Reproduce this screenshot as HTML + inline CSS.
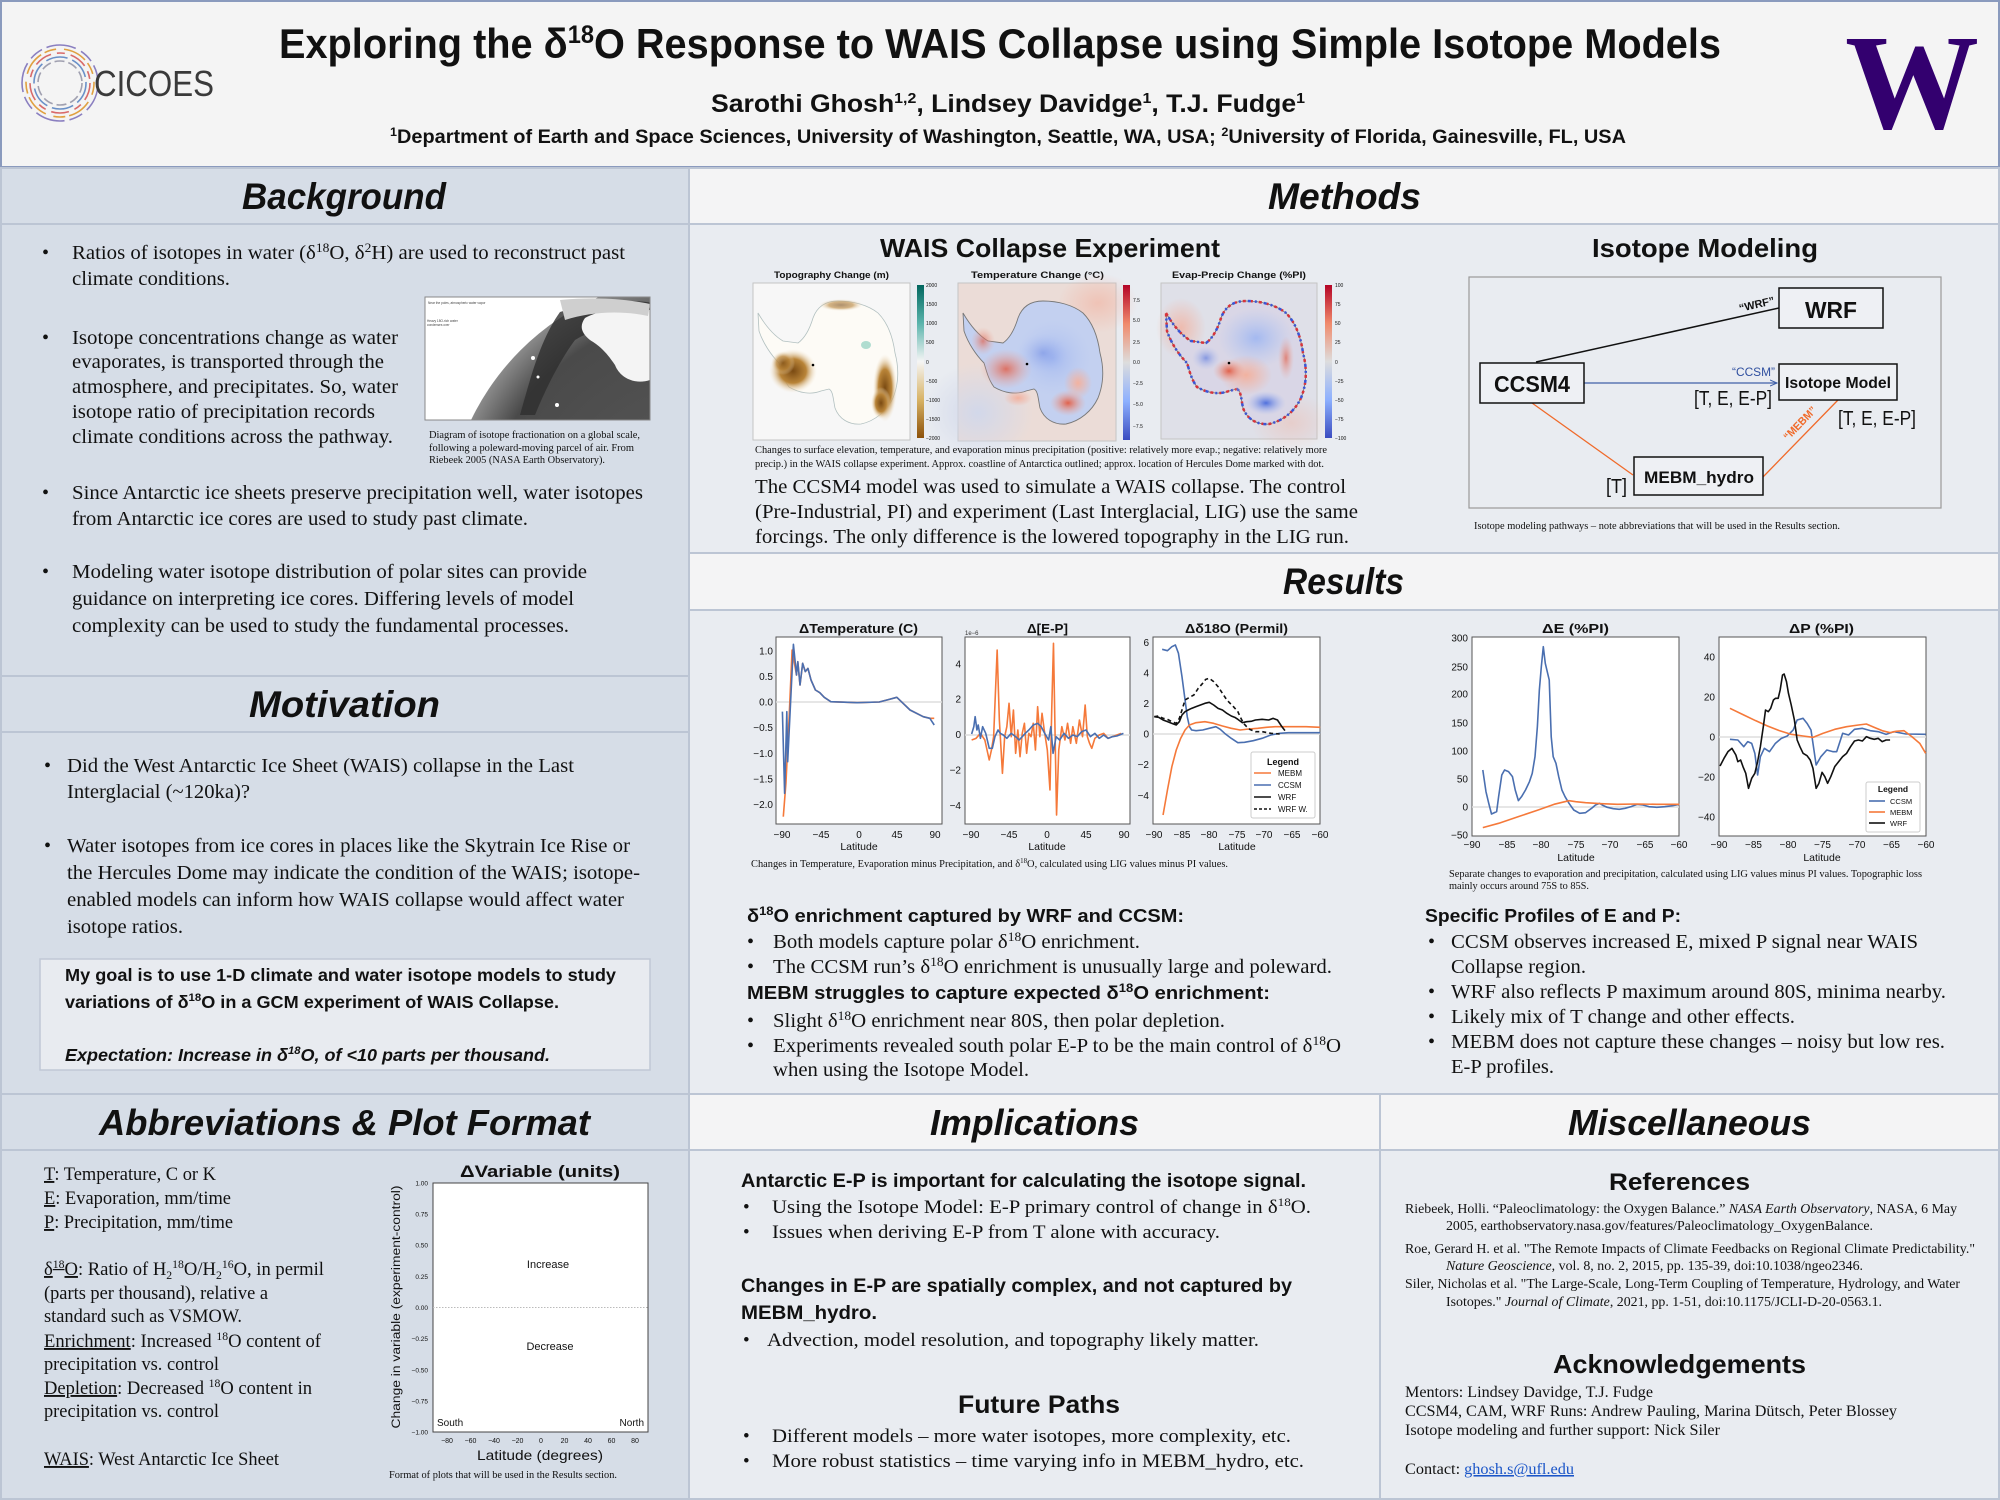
<!DOCTYPE html>
<html><head><meta charset="utf-8">
<style>
html,body{margin:0;padding:0;background:#e9ecf1;}
svg{display:block;}
.sa{font-family:"Liberation Sans",sans-serif;}
.se{font-family:"Liberation Serif",serif;}
.b{font-weight:bold;}
.i{font-style:italic;}
text{fill:#111;}
.tk{font-family:"Liberation Sans",sans-serif;font-size:10px;fill:#222;}
.u{text-decoration:underline;}
</style></head>
<body>
<svg width="2000" height="1500" viewBox="0 0 2000 1500" xmlns="http://www.w3.org/2000/svg">
<defs>
<linearGradient id="cbTopo" x1="0" y1="0" x2="0" y2="1"><stop offset="0" stop-color="#01665e"/><stop offset="0.25" stop-color="#5ab4ac"/><stop offset="0.5" stop-color="#f5f5f5"/><stop offset="0.75" stop-color="#d8b365"/><stop offset="1" stop-color="#8c510a"/></linearGradient>
<linearGradient id="cbCW" x1="0" y1="0" x2="0" y2="1"><stop offset="0" stop-color="#b40426"/><stop offset="0.25" stop-color="#f08a6c"/><stop offset="0.5" stop-color="#dddddd"/><stop offset="0.75" stop-color="#8db0fe"/><stop offset="1" stop-color="#3b4cc0"/></linearGradient>
<radialGradient id="globe" cx="0.5" cy="0.5" r="0.5"><stop offset="0" stop-color="#5a5a5a"/><stop offset="0.85" stop-color="#4a4a4a"/><stop offset="1" stop-color="#8a8a8a"/></radialGradient>
<radialGradient id="brown" cx="0.5" cy="0.5" r="0.5"><stop offset="0" stop-color="#7a4a12"/><stop offset="0.55" stop-color="#b98438"/><stop offset="1" stop-color="#f3e6cf" stop-opacity="0"/></radialGradient>
<radialGradient id="redb" cx="0.5" cy="0.5" r="0.5"><stop offset="0" stop-color="#e0614c"/><stop offset="1" stop-color="#f0a898" stop-opacity="0"/></radialGradient>
<radialGradient id="redl" cx="0.5" cy="0.5" r="0.5"><stop offset="0" stop-color="#f2b2a0"/><stop offset="1" stop-color="#f2b2a0" stop-opacity="0"/></radialGradient>
<radialGradient id="blueb" cx="0.5" cy="0.5" r="0.5"><stop offset="0" stop-color="#4f6fdc"/><stop offset="1" stop-color="#a9bcf2" stop-opacity="0"/></radialGradient>
<radialGradient id="bluel" cx="0.5" cy="0.5" r="0.5"><stop offset="0" stop-color="#a4b9f0"/><stop offset="1" stop-color="#b8c8f0" stop-opacity="0"/></radialGradient>
<radialGradient id="fadeBlue" cx="0.5" cy="0.5" r="0.5"><stop offset="0" stop-color="#d2d8ea"/><stop offset="1" stop-color="#d2d8ea" stop-opacity="0"/></radialGradient>
<clipPath id="imgclip"><rect x="425" y="297" width="225" height="123"/></clipPath>
<path id="ant2" d="M5,30 C12,42 20,52 30,58 L45,60 C52,55 57,45 60,35 C64,24 72,18 85,18 C100,18 115,22 125,30 C135,40 140,55 142,70 C146,85 146,100 140,115 C134,128 122,138 108,141 C96,142 86,136 82,125 C80,115 80,108 76,106 L68,108 C58,112 46,110 36,104 C30,96 28,86 26,80 C18,72 10,60 6,48 Z"/>
<marker id="arr" markerWidth="8" markerHeight="8" refX="7" refY="4" orient="auto" markerUnits="userSpaceOnUse"><path d="M0,1 L7,4 L0,7" fill="none" stroke="#4060a8" stroke-width="1"/></marker>
</defs>

<!-- backgrounds -->
<rect x="0" y="0" width="2000" height="1500" fill="#e9ecf1"/>
<rect x="0" y="168" width="689" height="1332" fill="#d6dde7"/>
<rect x="689" y="168" width="1311" height="56" fill="#f4f4f5"/>
<rect x="689" y="553" width="1311" height="57" fill="#f4f4f5"/>
<rect x="689" y="1094" width="1311" height="56" fill="#f4f4f5"/>
<rect x="1" y="1" width="1998" height="166" fill="#f4f4f4" stroke="#8a9abd" stroke-width="2"/>
<path d="M0 224H2000 M0 676H689 M0 732H689 M0 1094H2000 M0 1150H2000 M689 553H2000 M689 610H2000 M689 168V1500 M1380 1094V1500" stroke="#bcc5d4" stroke-width="2" fill="none"/>
<rect x="1" y="168" width="1998" height="1331" fill="none" stroke="#bcc5d4" stroke-width="2"/>

<!-- HEADER -->
<g fill="none" stroke-width="1.6">
<circle cx="60" cy="83" r="38" stroke="#8a7fc0" stroke-dasharray="30 6 14 5"/>
<circle cx="60" cy="83" r="34" stroke="#e0a040" stroke-dasharray="12 8 24 4"/>
<circle cx="60" cy="83" r="30" stroke="#d86a6a" stroke-dasharray="18 6 8 6"/>
<circle cx="60" cy="83" r="26" stroke="#6a90c8" stroke-dasharray="22 5"/>
<circle cx="60" cy="83" r="22" stroke="#a0a0b0" stroke-dasharray="10 4"/>
</g>
<text class="sa" x="94" y="96" font-size="36" textLength="120" lengthAdjust="spacingAndGlyphs" style="fill:#3a3a3a">CICOES</text>
<text class="sa b" x="279" y="58" font-size="42" textLength="1442" lengthAdjust="spacingAndGlyphs">Exploring the δ<tspan dy="-15" font-size="25">18</tspan><tspan dy="15">O Response to WAIS Collapse using Simple Isotope Models</tspan></text>
<text class="sa b" x="711" y="112" font-size="25" textLength="594" lengthAdjust="spacingAndGlyphs">Sarothi Ghosh<tspan dy="-9" font-size="15">1,2</tspan><tspan dy="9">, Lindsey Davidge</tspan><tspan dy="-9" font-size="15">1</tspan><tspan dy="9">, T.J. Fudge</tspan><tspan dy="-9" font-size="15">1</tspan></text>
<text class="sa b" x="390" y="143" font-size="19" textLength="1236" lengthAdjust="spacingAndGlyphs"><tspan dy="-7" font-size="12">1</tspan><tspan dy="7">Department of Earth and Space Sciences, University of Washington, Seattle, WA, USA; </tspan><tspan dy="-7" font-size="12">2</tspan><tspan dy="7">University of Florida, Gainesville, FL, USA</tspan></text>
<text x="1912" y="128" text-anchor="middle" font-family="Liberation Serif" font-weight="bold" font-size="136" textLength="134" lengthAdjust="spacingAndGlyphs" style="fill:#33006f">W</text>

<!-- BACKGROUND -->
<text class="sa b i" x="344" y="209" font-size="37" text-anchor="middle" textLength="204" lengthAdjust="spacingAndGlyphs">Background</text>
<g class="se" font-size="20">
<text x="42" y="259">•</text>
<text x="72" y="259" textLength="553" lengthAdjust="spacingAndGlyphs">Ratios of isotopes in water (δ<tspan dy="-7" font-size="13">18</tspan><tspan dy="7">O, δ</tspan><tspan dy="-7" font-size="13">2</tspan><tspan dy="7">H) are used to reconstruct past</tspan></text>
<text x="72" y="285" textLength="158" lengthAdjust="spacingAndGlyphs">climate conditions.</text>
<text x="42" y="344">•</text>
<text x="72" y="344" textLength="326" lengthAdjust="spacingAndGlyphs">Isotope concentrations change as water</text>
<text x="72" y="368" textLength="312" lengthAdjust="spacingAndGlyphs">evaporates, is transported through the</text>
<text x="72" y="393" textLength="326" lengthAdjust="spacingAndGlyphs">atmosphere, and precipitates. So, water</text>
<text x="72" y="418" textLength="303" lengthAdjust="spacingAndGlyphs">isotope ratio of precipitation records</text>
<text x="72" y="443" textLength="321" lengthAdjust="spacingAndGlyphs">climate conditions across the pathway.</text>
<text x="42" y="499">•</text>
<text x="72" y="499" textLength="571" lengthAdjust="spacingAndGlyphs">Since Antarctic ice sheets preserve precipitation well, water isotopes</text>
<text x="72" y="525" textLength="456" lengthAdjust="spacingAndGlyphs">from Antarctic ice cores are used to study past climate.</text>
<text x="42" y="578">•</text>
<text x="72" y="578" textLength="515" lengthAdjust="spacingAndGlyphs">Modeling water isotope distribution of polar sites can provide</text>
<text x="72" y="605" textLength="502" lengthAdjust="spacingAndGlyphs">guidance on interpreting ice cores. Differing levels of model</text>
<text x="72" y="632" textLength="497" lengthAdjust="spacingAndGlyphs">complexity can be used to study the fundamental processes.</text>
</g>
<!-- globe image -->
<g clip-path="url(#imgclip)">
<rect x="425" y="297" width="225" height="123" fill="#ffffff"/>
<circle cx="700" cy="530" r="254" fill="url(#globe)"/>
<path d="M560,312 C600,300 640,298 660,305 L660,330 C630,322 600,325 575,340 C560,360 545,390 535,415 L520,415 C530,380 540,340 560,312 Z" fill="#2e2e2e" opacity="0.8"/>
<path d="M585,318 C600,310 625,305 650,310 L650,380 C635,385 620,378 615,365 C605,350 598,345 590,340 C580,332 580,325 585,318 Z" fill="#f4f4f4"/>
<path d="M560,300 C600,296 630,300 650,304 L648,316 C620,310 590,312 565,320 Z" fill="#cfcfcf"/>
<circle cx="533" cy="358" r="2" fill="#fff"/><circle cx="538" cy="377" r="1.5" fill="#fff"/><circle cx="557" cy="405" r="2" fill="#fff"/>
<text class="sa" x="428" y="304" font-size="3.2" style="fill:#444">Near the poles, atmospheric water vapor</text>
<text class="sa" x="427" y="322" font-size="3.2" style="fill:#444">Heavy 18O-rich water</text>
<text class="sa" x="427" y="326" font-size="3.2" style="fill:#444">condenses over</text>
</g>
<rect x="425" y="297" width="225" height="123" fill="none" stroke="#888" stroke-width="1"/>
<g class="se" font-size="10.5">
<text x="429" y="438" textLength="211" lengthAdjust="spacingAndGlyphs">Diagram of isotope fractionation on a global scale,</text>
<text x="429" y="451" textLength="205" lengthAdjust="spacingAndGlyphs">following a poleward-moving parcel of air. From</text>
<text x="429" y="463" textLength="176" lengthAdjust="spacingAndGlyphs">Riebeek 2005 (NASA Earth Observatory).</text>
</g>

<!-- MOTIVATION -->
<text class="sa b i" x="344.5" y="717" font-size="37" text-anchor="middle" textLength="191" lengthAdjust="spacingAndGlyphs">Motivation</text>
<g class="se" font-size="20">
<text x="44" y="772">•</text>
<text x="67" y="772" textLength="507" lengthAdjust="spacingAndGlyphs">Did the West Antarctic Ice Sheet (WAIS) collapse in the Last</text>
<text x="67" y="798" textLength="183" lengthAdjust="spacingAndGlyphs">Interglacial (~120ka)?</text>
<text x="44" y="852">•</text>
<text x="67" y="852" textLength="563" lengthAdjust="spacingAndGlyphs">Water isotopes from ice cores in places like the Skytrain Ice Rise or</text>
<text x="67" y="879" textLength="573" lengthAdjust="spacingAndGlyphs">the Hercules Dome may indicate the condition of the WAIS; isotope-</text>
<text x="67" y="906" textLength="557" lengthAdjust="spacingAndGlyphs">enabled models can inform how WAIS collapse would affect water</text>
<text x="67" y="933" textLength="116" lengthAdjust="spacingAndGlyphs">isotope ratios.</text>
</g>
<rect x="40" y="959" width="610" height="111" fill="#e8ebf0" stroke="#c0c8d6" stroke-width="1.5"/>
<g class="sa b" font-size="17.5">
<text x="65" y="981" textLength="551" lengthAdjust="spacingAndGlyphs">My goal is to use 1-D climate and water isotope models to study</text>
<text x="65" y="1008" textLength="494" lengthAdjust="spacingAndGlyphs">variations of δ<tspan dy="-7" font-size="11">18</tspan><tspan dy="7">O in a GCM experiment of WAIS Collapse.</tspan></text>
<text x="65" y="1061" font-style="italic" textLength="485" lengthAdjust="spacingAndGlyphs">Expectation: Increase in δ<tspan dy="-7" font-size="11">18</tspan><tspan dy="7">O, of &lt;10 parts per thousand.</tspan></text>
</g>

<!-- ABBREVIATIONS -->
<text class="sa b i" x="344.5" y="1135" font-size="36" text-anchor="middle" textLength="491" lengthAdjust="spacingAndGlyphs">Abbreviations &amp; Plot Format</text>
<g class="se" font-size="19">
<text x="44" y="1180" textLength="172" lengthAdjust="spacingAndGlyphs"><tspan class="u">T</tspan>: Temperature, C or K</text>
<text x="44" y="1204" textLength="187" lengthAdjust="spacingAndGlyphs"><tspan class="u">E</tspan>: Evaporation, mm/time</text>
<text x="44" y="1228" textLength="189" lengthAdjust="spacingAndGlyphs"><tspan class="u">P</tspan>: Precipitation, mm/time</text>
<text x="44" y="1275" textLength="280" lengthAdjust="spacingAndGlyphs"><tspan class="u">δ</tspan><tspan class="u" dy="-7" font-size="12">18</tspan><tspan class="u" dy="7">O</tspan>: Ratio of H<tspan dy="4" font-size="12">2</tspan><tspan dy="-11" font-size="12">18</tspan><tspan dy="7">O/H</tspan><tspan dy="4" font-size="12">2</tspan><tspan dy="-11" font-size="12">16</tspan><tspan dy="7">O, in permil</tspan></text>
<text x="44" y="1299" textLength="224" lengthAdjust="spacingAndGlyphs">(parts per thousand), relative a</text>
<text x="44" y="1322" textLength="198" lengthAdjust="spacingAndGlyphs">standard such as VSMOW.</text>
<text x="44" y="1347" textLength="277" lengthAdjust="spacingAndGlyphs"><tspan class="u">Enrichment</tspan>: Increased <tspan dy="-7" font-size="12">18</tspan><tspan dy="7">O content of</tspan></text>
<text x="44" y="1370" textLength="175" lengthAdjust="spacingAndGlyphs">precipitation vs. control</text>
<text x="44" y="1394" textLength="268" lengthAdjust="spacingAndGlyphs"><tspan class="u">Depletion</tspan>: Decreased <tspan dy="-7" font-size="12">18</tspan><tspan dy="7">O content in</tspan></text>
<text x="44" y="1417" textLength="175" lengthAdjust="spacingAndGlyphs">precipitation vs. control</text>
<text x="44" y="1465" textLength="235" lengthAdjust="spacingAndGlyphs"><tspan class="u">WAIS</tspan>: West Antarctic Ice Sheet</text>
</g>
<!-- format plot -->
<text class="sa b" x="540" y="1177" font-size="16.5" text-anchor="middle" textLength="160" lengthAdjust="spacingAndGlyphs">ΔVariable (units)</text>
<rect x="433" y="1183" width="215" height="249" fill="#fff" stroke="#444" stroke-width="1"/>
<line x1="433" y1="1307.5" x2="648" y2="1307.5" stroke="#bbb" stroke-width="1" stroke-dasharray="1.5 1.5"/>
<g class="sa" font-size="6.5" text-anchor="end" style="fill:#222">
<text x="428" y="1185.5">1.00</text><text x="428" y="1216.5">0.75</text><text x="428" y="1247.5">0.50</text><text x="428" y="1279">0.25</text><text x="428" y="1310">0.00</text><text x="428" y="1341">−0.25</text><text x="428" y="1372.5">−0.50</text><text x="428" y="1403.5">−0.75</text><text x="428" y="1434.5">−1.00</text>
</g>
<g class="sa" font-size="7" text-anchor="middle">
<text x="447" y="1443">−80</text><text x="470.5" y="1443">−60</text><text x="494" y="1443">−40</text><text x="517.5" y="1443">−20</text><text x="541" y="1443">0</text><text x="564.5" y="1443">20</text><text x="588" y="1443">40</text><text x="611.5" y="1443">60</text><text x="635" y="1443">80</text>
</g>
<text class="sa" x="548" y="1268" font-size="11" text-anchor="middle">Increase</text>
<text class="sa" x="550" y="1350" font-size="11" text-anchor="middle">Decrease</text>
<text class="sa" x="437" y="1426" font-size="10">South</text>
<text class="sa" x="644" y="1426" font-size="10" text-anchor="end">North</text>
<text class="sa" x="540" y="1460" font-size="14" text-anchor="middle" textLength="126" lengthAdjust="spacingAndGlyphs">Latitude (degrees)</text>
<text class="sa" transform="translate(400,1307) rotate(-90)" x="0" y="0" font-size="11.5" text-anchor="middle" textLength="243" lengthAdjust="spacingAndGlyphs">Change in variable (experiment-control)</text>
<text class="se" x="389" y="1478" font-size="10" textLength="228" lengthAdjust="spacingAndGlyphs">Format of plots that will be used in the Results section.</text>

<!-- METHODS -->
<text class="sa b i" x="1344.5" y="209" font-size="37" text-anchor="middle" textLength="153" lengthAdjust="spacingAndGlyphs">Methods</text>
<text class="sa b" x="880" y="257" font-size="26" textLength="340" lengthAdjust="spacingAndGlyphs">WAIS Collapse Experiment</text>
<text class="sa b" x="1592" y="257" font-size="26" textLength="226" lengthAdjust="spacingAndGlyphs">Isotope Modeling</text>
<g class="sa b" font-size="9">
<text x="774" y="278" textLength="115" lengthAdjust="spacingAndGlyphs">Topography Change (m)</text>
<text x="971" y="278" textLength="133" lengthAdjust="spacingAndGlyphs">Temperature Change (°C)</text>
<text x="1172" y="278" textLength="134" lengthAdjust="spacingAndGlyphs">Evap-Precip Change (%PI)</text>
</g>
<!-- topo map -->
<g transform="translate(753,283)">
<rect width="157" height="157" fill="#f7f7f7" stroke="#c4c4c4" stroke-width="1"/>
<use href="#ant2" fill="#fdfbf6" stroke="#b2c0c0" stroke-width="0.8"/>
<ellipse cx="40" cy="88" rx="24" ry="22" fill="url(#brown)"/>
<ellipse cx="30" cy="80" rx="12" ry="12" fill="url(#brown)" opacity="0.7"/>
<ellipse cx="132" cy="105" rx="12" ry="34" fill="url(#brown)"/>
<ellipse cx="128" cy="120" rx="10" ry="16" fill="url(#brown)"/>
<ellipse cx="88" cy="22" rx="22" ry="6" fill="url(#brown)" opacity="0.6"/>
<ellipse cx="113" cy="62" rx="5" ry="4" fill="#8fd0c0" opacity="0.7"/>
</g>
<!-- temp map -->
<g transform="translate(958,283)">
<rect width="158" height="158" fill="#ebdcd7" stroke="#c4c4c4" stroke-width="1"/>
<ellipse cx="20" cy="130" rx="55" ry="50" fill="url(#fadeBlue)"/>
<ellipse cx="140" cy="20" rx="40" ry="30" fill="url(#redl)" opacity="0.6"/>
<use href="#ant2" fill="#c3d0f0" stroke="#777" stroke-width="0.9"/>
<ellipse cx="95" cy="75" rx="38" ry="38" fill="url(#bluel)"/>
<ellipse cx="85" cy="70" rx="25" ry="20" fill="url(#blueb)" opacity="0.35"/>
<ellipse cx="48" cy="86" rx="26" ry="20" fill="url(#redb)" opacity="0.85"/>
<ellipse cx="25" cy="58" rx="12" ry="14" fill="url(#redb)" opacity="0.7"/>
<ellipse cx="110" cy="120" rx="18" ry="13" fill="url(#redb)"/>
<ellipse cx="120" cy="100" rx="14" ry="16" fill="url(#redl)"/>
<ellipse cx="60" cy="115" rx="14" ry="8" fill="url(#redl)"/>
</g>
<!-- E-P map -->
<g transform="translate(1161,283)">
<rect width="156" height="156" fill="#dfe0e8" stroke="#c4c4c4" stroke-width="1"/>
<ellipse cx="20" cy="45" rx="25" ry="30" fill="url(#redl)" opacity="0.8"/>
<ellipse cx="130" cy="140" rx="40" ry="30" fill="url(#redl)" opacity="0.4"/>
<use href="#ant2" fill="#d9d6e6" stroke="#666" stroke-width="0.8"/>
<use href="#ant2" fill="none" stroke="#d8333a" stroke-width="2.5" stroke-dasharray="3 5 2 6"/>
<use href="#ant2" fill="none" stroke="#3a55d6" stroke-width="2.5" stroke-dasharray="2 7 3 4" stroke-dashoffset="4"/>
<ellipse cx="95" cy="55" rx="38" ry="30" fill="url(#bluel)"/>
<ellipse cx="85" cy="92" rx="26" ry="20" fill="url(#redl)"/>
<ellipse cx="68" cy="88" rx="16" ry="12" fill="url(#redb)"/>
<ellipse cx="105" cy="120" rx="20" ry="12" fill="url(#blueb)"/>
<ellipse cx="45" cy="75" rx="14" ry="12" fill="url(#blueb)" opacity="0.6"/>
<ellipse cx="125" cy="75" rx="8" ry="22" fill="url(#redb)" opacity="0.7"/>
</g>
<!-- colorbars -->
<rect x="917" y="285" width="7" height="153" fill="url(#cbTopo)"/>
<rect x="1123" y="285" width="7" height="155" fill="url(#cbCW)"/>
<rect x="1325" y="285" width="7" height="153" fill="url(#cbCW)"/>
<circle cx="813" cy="365" r="1.3" fill="#000"/><circle cx="1027" cy="364" r="1.3" fill="#000"/><circle cx="1229" cy="363" r="1.3" fill="#000"/>
<g class="sa" font-size="5" style="fill:#333">
<text x="926" y="287">2000</text><text x="926" y="306">1500</text><text x="926" y="325">1000</text><text x="926" y="344">500</text><text x="926" y="364">0</text><text x="926" y="383">−500</text><text x="926" y="402">−1000</text><text x="926" y="421">−1500</text><text x="926" y="440">−2000</text>
<text x="1133" y="302">7.5</text><text x="1133" y="322">5.0</text><text x="1133" y="344">2.5</text><text x="1133" y="364">0.0</text><text x="1133" y="385">−2.5</text><text x="1133" y="406">−5.0</text><text x="1133" y="428">−7.5</text>
<text x="1335" y="287">100</text><text x="1335" y="306">75</text><text x="1335" y="325">50</text><text x="1335" y="344">25</text><text x="1335" y="364">0</text><text x="1335" y="383">−25</text><text x="1335" y="402">−50</text><text x="1335" y="421">−75</text><text x="1335" y="440">−100</text>
</g>
<g class="se" font-size="10">
<text x="755" y="453" textLength="572" lengthAdjust="spacingAndGlyphs">Changes to surface elevation, temperature, and evaporation minus precipitation (positive: relatively more evap.; negative: relatively more</text>
<text x="755" y="467" textLength="569" lengthAdjust="spacingAndGlyphs">precip.) in the WAIS collapse experiment. Approx. coastline of Antarctica outlined; approx. location of Hercules Dome marked with dot.</text>
</g>
<g class="se" font-size="20">
<text x="755" y="493" textLength="591" lengthAdjust="spacingAndGlyphs">The CCSM4 model was used to simulate a WAIS collapse. The control</text>
<text x="755" y="518" textLength="603" lengthAdjust="spacingAndGlyphs">(Pre-Industrial, PI) and experiment (Last Interglacial, LIG) use the same</text>
<text x="755" y="543" textLength="594" lengthAdjust="spacingAndGlyphs">forcings. The only difference is the lowered topography in the LIG run.</text>
</g>
<!-- isotope diagram -->
<rect x="1469" y="277" width="472" height="231" fill="none" stroke="#9a9a9a" stroke-width="1.2"/>
<line x1="1536" y1="362" x2="1779" y2="308" stroke="#111" stroke-width="1.5"/>
<line x1="1584" y1="383" x2="1777" y2="383" stroke="#4060a8" stroke-width="1.2" marker-end="url(#arr)"/>
<line x1="1532" y1="403" x2="1633" y2="475" stroke="#f06a2a" stroke-width="1.3"/>
<line x1="1763" y1="477" x2="1838" y2="400" stroke="#f06a2a" stroke-width="1.3"/>
<rect x="1779" y="288" width="104" height="40" fill="#eef0f4" stroke="#111" stroke-width="1.5"/>
<rect x="1480" y="363" width="104" height="40" fill="#eef0f4" stroke="#111" stroke-width="1.5"/>
<rect x="1779" y="364" width="118" height="36" fill="#eef0f4" stroke="#111" stroke-width="1.5"/>
<rect x="1634" y="457" width="129" height="38" fill="#eef0f4" stroke="#111" stroke-width="1.5"/>
<text class="sa b" x="1831" y="318" font-size="23" text-anchor="middle" textLength="52" lengthAdjust="spacingAndGlyphs">WRF</text>
<text class="sa b" x="1532" y="392" font-size="23" text-anchor="middle" textLength="76" lengthAdjust="spacingAndGlyphs">CCSM4</text>
<text class="sa b" x="1838" y="388" font-size="16" text-anchor="middle" textLength="106" lengthAdjust="spacingAndGlyphs">Isotope Model</text>
<text class="sa b" x="1699" y="483" font-size="17" text-anchor="middle" textLength="110" lengthAdjust="spacingAndGlyphs">MEBM_hydro</text>
<text class="sa b" transform="translate(1740,312) rotate(-13)" font-size="11" textLength="36" lengthAdjust="spacingAndGlyphs">“WRF”</text>
<text class="sa" x="1732" y="376" font-size="12" textLength="43" lengthAdjust="spacingAndGlyphs" style="fill:#2f4f9f">“CCSM”</text>
<text class="sa" x="1694" y="405" font-size="20" textLength="78" lengthAdjust="spacingAndGlyphs">[T, E, E-P]</text>
<text class="sa" x="1606" y="493" font-size="20" textLength="21" lengthAdjust="spacingAndGlyphs">[T]</text>
<text class="sa" x="1838" y="425" font-size="20" textLength="78" lengthAdjust="spacingAndGlyphs">[T, E, E-P]</text>
<text class="sa b" transform="translate(1788,441) rotate(-46)" font-size="11" textLength="42" lengthAdjust="spacingAndGlyphs" style="fill:#f06a2a">“MEBM”</text>
<text class="se" x="1474" y="529" font-size="10" textLength="366" lengthAdjust="spacingAndGlyphs">Isotope modeling pathways – note abbreviations that will be used in the Results section.</text>

<!-- RESULTS -->
<text class="sa b i" x="1343.5" y="594" font-size="37" text-anchor="middle" textLength="121" lengthAdjust="spacingAndGlyphs">Results</text>
<g class="sa b" font-size="13">
<text x="799" y="633" textLength="119" lengthAdjust="spacingAndGlyphs">ΔTemperature (C)</text>
<text x="1027" y="633" textLength="41" lengthAdjust="spacingAndGlyphs">Δ[E-P]</text>
<text x="1185" y="633" textLength="103" lengthAdjust="spacingAndGlyphs">Δδ18O (Permil)</text>
<text x="1542" y="633" textLength="67" lengthAdjust="spacingAndGlyphs">ΔE (%PI)</text>
<text x="1789" y="633" textLength="65" lengthAdjust="spacingAndGlyphs">ΔP (%PI)</text>
</g>
<rect x="776" y="637" width="166" height="187" fill="#fff" stroke="#555" stroke-width="1"/>
<rect x="965" y="637" width="165" height="187" fill="#fff" stroke="#555" stroke-width="1"/>
<rect x="1153" y="637" width="167" height="187" fill="#fff" stroke="#555" stroke-width="1"/>
<rect x="1472" y="637" width="207" height="199" fill="#fff" stroke="#555" stroke-width="1"/>
<rect x="1719" y="637" width="207" height="199" fill="#fff" stroke="#555" stroke-width="1"/>
<g stroke="#ddd" stroke-width="1.5">
<line x1="776" y1="702" x2="942" y2="702"/><line x1="965" y1="735" x2="1130" y2="735"/><line x1="1153" y1="734" x2="1320" y2="734"/><line x1="1472" y1="807" x2="1679" y2="807"/><line x1="1719" y1="737" x2="1926" y2="737"/>
</g>
<g transform="translate(690,610) scale(0.44005,0.33333)" fill="none" stroke-width="1.6" stroke-linejoin="round">
<polyline vector-effect="non-scaling-stroke" stroke="#f5793a" points="212,620 218,520 225,330 232,120 236,150 242,195 245,155 250,225 256,160 262,185 268,175 275,210 285,240 295,248 305,262 320,275 380,278 430,276 470,262 500,300 530,320 545,325 555,325"/>
<polyline vector-effect="non-scaling-stroke" stroke="#4a6fb0" points="210,305 215,550 220,305 222,455 235,103 242,195 245,155 250,225 256,160 262,185 268,175 275,210 285,240 295,248 305,262 320,275 380,278 430,276 470,262 500,300 530,320 545,325 555,345"/>
<polyline vector-effect="non-scaling-stroke" stroke="#f5793a" points="640,390 650,385 660,370 670,390 680,450 685,420 690,380 698,120 703,330 710,490 715,380 720,350 725,280 730,380 735,300 740,430 745,360 750,440 755,370 760,340 765,430 770,370 775,380 780,340 785,420 790,290 795,380 800,310 805,360 812,420 818,540 822,300 826,100 830,400 833,615 838,420 845,350 852,390 858,340 865,400 870,350 878,400 885,330 892,380 898,285 903,380 908,400 913,415 920,385 930,375 940,370 950,385 960,380 970,375 980,370"/>
<polyline vector-effect="non-scaling-stroke" stroke="#4a6fb0" points="640,372 645,350 648,320 652,360 655,345 660,385 665,350 672,370 680,415 687,415 693,380 700,360 705,370 712,375 720,385 730,370 740,380 748,390 755,380 762,370 770,360 780,345 790,340 798,350 806,370 815,390 820,350 825,430 832,380 840,390 850,370 860,385 870,375 880,380 890,365 900,360 910,380 920,370 930,385 940,375 950,385 960,380 970,378 985,370"/>
<polyline vector-effect="non-scaling-stroke" stroke="#4a6fb0" points="1073,118 1085,122 1095,110 1103,105 1110,130 1118,200 1125,270 1130,320 1135,350 1140,360 1150,362 1165,360 1180,355 1195,350 1205,358 1215,370 1230,385 1245,398 1260,397 1280,392 1300,385 1320,375 1340,370 1360,368 1400,368 1432,368"/>
<polyline vector-effect="non-scaling-stroke" stroke="#f5793a" points="1075,615 1085,540 1095,470 1105,420 1115,385 1125,360 1135,345 1150,338 1170,335 1190,340 1210,348 1230,355 1250,360 1270,357 1290,355 1310,352 1330,350 1360,350 1400,350 1432,352"/>
<polyline vector-effect="non-scaling-stroke" stroke="#111" points="1055,320 1065,322 1075,330 1085,335 1095,340 1105,345 1112,335 1118,315 1125,305 1132,300 1140,295 1150,290 1160,285 1170,280 1180,277 1190,285 1200,295 1210,300 1220,310 1230,318 1238,322 1245,328 1255,338 1265,335 1275,334 1285,330 1300,328 1315,330 1325,325 1335,330 1345,350 1352,362"/>
<polyline vector-effect="non-scaling-stroke" stroke="#111" stroke-dasharray="4 3" points="1055,320 1065,318 1075,325 1085,328 1095,335 1105,340 1112,325 1118,300 1125,270 1135,262 1145,255 1155,235 1165,220 1172,208 1180,205 1190,215 1200,230 1210,250 1220,270 1235,290 1245,305 1250,320 1258,340 1265,350 1272,358 1285,365 1300,365 1320,370 1340,372"/>
</g>
<g transform="translate(1380,610) scale(0.39541,0.33333)" fill="none" stroke-width="1.6" stroke-linejoin="round">
<polyline vector-effect="non-scaling-stroke" stroke="#4a6fb0" points="260,480 268,545 275,580 282,612 295,605 300,560 308,495 315,480 325,485 335,500 342,540 350,572 358,560 368,540 378,515 385,490 392,440 398,350 403,240 408,170 413,110 418,160 423,185 428,210 433,380 438,440 445,460 452,500 460,540 468,560 478,580 490,600 505,610 520,608 535,595 545,585 555,580 565,587 575,592 590,596 605,598 620,595 635,590 650,583 665,585 680,590 700,592 720,590 740,587 757,583"/>
<polyline vector-effect="non-scaling-stroke" stroke="#f5793a" points="260,653 300,640 350,620 400,600 440,583 478,572 495,575 520,578 560,581 600,583 650,582 700,583 757,583"/>
<polyline vector-effect="non-scaling-stroke" stroke="#4a6fb0" points="885,388 905,390 920,410 930,395 940,400 948,430 955,495 962,440 972,415 985,425 1000,400 1015,385 1030,378 1045,360 1055,330 1070,325 1080,340 1090,360 1095,400 1103,465 1115,440 1130,420 1145,425 1155,425 1170,370 1185,375 1200,358 1220,355 1240,362 1260,365 1280,373 1300,365 1330,372 1380,373"/>
<polyline vector-effect="non-scaling-stroke" stroke="#f5793a" points="885,295 920,315 950,332 980,348 1010,362 1040,373 1070,378 1095,382 1120,370 1150,358 1180,350 1210,345 1230,342 1250,352 1270,362 1290,368 1305,364 1325,362 1345,380 1365,400 1380,430"/>
<polyline vector-effect="non-scaling-stroke" stroke="#111" points="860,468 870,445 880,425 890,415 900,435 905,455 912,450 918,470 925,490 932,535 940,505 948,490 955,455 962,410 970,345 975,300 982,305 988,295 995,270 1000,265 1007,265 1012,240 1018,195 1022,192 1028,215 1033,250 1040,285 1048,330 1055,390 1062,410 1070,430 1080,437 1088,450 1095,475 1103,535 1110,520 1118,487 1125,500 1132,520 1140,500 1150,470 1160,455 1170,440 1180,430 1190,410 1200,393 1210,390 1220,393 1230,380 1240,385 1250,388 1260,385 1270,395 1280,390 1290,390"/>
</g>
<g class="tk" text-anchor="end">
<text x="773" y="654.5">1.0</text><text x="773" y="680">0.5</text><text x="773" y="705.5">0.0</text><text x="773" y="731">−0.5</text><text x="773" y="757">−1.0</text><text x="773" y="782.5">−1.5</text><text x="773" y="808">−2.0</text>
<text x="961" y="667.5">4</text><text x="961" y="702.5">2</text><text x="961" y="738">0</text><text x="961" y="773.5">−2</text><text x="961" y="809">−4</text>
<text x="1149" y="646">6</text><text x="1149" y="676.5">4</text><text x="1149" y="707">2</text><text x="1149" y="737.5">0</text><text x="1149" y="768">−2</text><text x="1149" y="799">−4</text>
<text x="1468" y="641.5">300</text><text x="1468" y="670.5">250</text><text x="1468" y="697.5">200</text><text x="1468" y="726.5">150</text><text x="1468" y="754.5">100</text><text x="1468" y="782.5">50</text><text x="1468" y="810.5">0</text><text x="1468" y="838.5">−50</text>
<text x="1715" y="660.5">40</text><text x="1715" y="700.5">20</text><text x="1715" y="740.5">0</text><text x="1715" y="780.5">−20</text><text x="1715" y="820.5">−40</text>
</g>
<g class="tk" text-anchor="middle">
<text x="782" y="838">−90</text><text x="821" y="838">−45</text><text x="859" y="838">0</text><text x="897" y="838">45</text><text x="935" y="838">90</text>
<text x="971" y="838">−90</text><text x="1009" y="838">−45</text><text x="1047" y="838">0</text><text x="1086" y="838">45</text><text x="1124" y="838">90</text>
<text x="1154" y="838">−90</text><text x="1182" y="838">−85</text><text x="1209" y="838">−80</text><text x="1237" y="838">−75</text><text x="1264" y="838">−70</text><text x="1292" y="838">−65</text><text x="1320" y="838">−60</text>
<text x="1472" y="848">−90</text><text x="1507" y="848">−85</text><text x="1541" y="848">−80</text><text x="1576" y="848">−75</text><text x="1610" y="848">−70</text><text x="1645" y="848">−65</text><text x="1679" y="848">−60</text>
<text x="1719" y="848">−90</text><text x="1753.5" y="848">−85</text><text x="1788" y="848">−80</text><text x="1822.5" y="848">−75</text><text x="1857" y="848">−70</text><text x="1891.5" y="848">−65</text><text x="1926" y="848">−60</text>
<text x="859" y="850" font-size="10.5">Latitude</text><text x="1047" y="850" font-size="10.5">Latitude</text><text x="1237" y="850" font-size="10.5">Latitude</text>
<text x="1576" y="861" font-size="10.5">Latitude</text><text x="1822" y="861" font-size="10.5">Latitude</text>
</g>
<text class="sa" x="965" y="635" font-size="6" style="fill:#333">1e−6</text>
<rect x="1251" y="752" width="64" height="66" fill="#fff" stroke="#ccc" stroke-width="1" rx="2"/>
<text class="sa b" x="1283" y="765" font-size="9" text-anchor="middle">Legend</text>
<g stroke-width="1.6"><line x1="1254" y1="773" x2="1271" y2="773" stroke="#f5793a"/><line x1="1254" y1="785" x2="1271" y2="785" stroke="#4a6fb0"/><line x1="1254" y1="797" x2="1271" y2="797" stroke="#111"/><line x1="1254" y1="809" x2="1271" y2="809" stroke="#111" stroke-dasharray="3 2"/></g>
<g class="sa" font-size="8"><text x="1278" y="776">MEBM</text><text x="1278" y="788">CCSM</text><text x="1278" y="800">WRF</text><text x="1278" y="812">WRF W.</text></g>
<rect x="1866" y="782" width="54" height="50" fill="#fff" stroke="#ccc" stroke-width="1" rx="2"/>
<text class="sa b" x="1893" y="792" font-size="8.5" text-anchor="middle">Legend</text>
<g stroke-width="1.6"><line x1="1869" y1="801" x2="1885" y2="801" stroke="#4a6fb0"/><line x1="1869" y1="812" x2="1885" y2="812" stroke="#f5793a"/><line x1="1869" y1="823" x2="1885" y2="823" stroke="#111"/></g>
<g class="sa" font-size="7.5"><text x="1890" y="804">CCSM</text><text x="1890" y="815">MEBM</text><text x="1890" y="826">WRF</text></g>
<text class="se" x="751" y="867" font-size="10.5" textLength="477" lengthAdjust="spacingAndGlyphs">Changes in Temperature, Evaporation minus Precipitation, and δ<tspan dy="-4" font-size="7">18</tspan><tspan dy="4">O, calculated using LIG values minus PI values.</tspan></text>
<text class="se" x="1449" y="877" font-size="10.5" textLength="473" lengthAdjust="spacingAndGlyphs">Separate changes to evaporation and precipitation, calculated using LIG values minus PI values. Topographic loss</text>
<text class="se" x="1449" y="889" font-size="10.5" textLength="140" lengthAdjust="spacingAndGlyphs">mainly occurs around 75S to 85S.</text>
<text class="sa b" x="747" y="922" font-size="18.5" textLength="437" lengthAdjust="spacingAndGlyphs">δ<tspan dy="-7" font-size="12">18</tspan><tspan dy="7">O enrichment captured by WRF and CCSM:</tspan></text>
<text class="sa b" x="747" y="999" font-size="18.5" textLength="523" lengthAdjust="spacingAndGlyphs">MEBM struggles to capture expected δ<tspan dy="-7" font-size="12">18</tspan><tspan dy="7">O enrichment:</tspan></text>
<g class="se" font-size="20">
<text x="747" y="948">•</text><text x="747" y="973">•</text><text x="747" y="1027">•</text><text x="747" y="1052">•</text>
<text x="773" y="948" textLength="367" lengthAdjust="spacingAndGlyphs">Both models capture polar δ<tspan dy="-7" font-size="13">18</tspan><tspan dy="7">O enrichment.</tspan></text>
<text x="773" y="973" textLength="559" lengthAdjust="spacingAndGlyphs">The CCSM run’s δ<tspan dy="-7" font-size="13">18</tspan><tspan dy="7">O enrichment is unusually large and poleward.</tspan></text>
<text x="773" y="1027" textLength="452" lengthAdjust="spacingAndGlyphs">Slight δ<tspan dy="-7" font-size="13">18</tspan><tspan dy="7">O enrichment near 80S, then polar depletion.</tspan></text>
<text x="773" y="1052" textLength="568" lengthAdjust="spacingAndGlyphs">Experiments revealed south polar E-P to be the main control of δ<tspan dy="-7" font-size="13">18</tspan><tspan dy="7">O</tspan></text>
<text x="773" y="1076" textLength="256" lengthAdjust="spacingAndGlyphs">when using the Isotope Model.</text>
</g>
<text class="sa b" x="1425" y="922" font-size="18.5" textLength="256" lengthAdjust="spacingAndGlyphs">Specific Profiles of E and P:</text>
<g class="se" font-size="20">
<text x="1428" y="948">•</text><text x="1428" y="998">•</text><text x="1428" y="1023">•</text><text x="1428" y="1048">•</text>
<text x="1451" y="948" textLength="467" lengthAdjust="spacingAndGlyphs">CCSM observes increased E, mixed P signal near WAIS</text>
<text x="1451" y="973" textLength="135" lengthAdjust="spacingAndGlyphs">Collapse region.</text>
<text x="1451" y="998" textLength="495" lengthAdjust="spacingAndGlyphs">WRF also reflects P maximum around 80S, minima nearby.</text>
<text x="1451" y="1023" textLength="344" lengthAdjust="spacingAndGlyphs">Likely mix of T change and other effects.</text>
<text x="1451" y="1048" textLength="494" lengthAdjust="spacingAndGlyphs">MEBM does not capture these changes – noisy but low res.</text>
<text x="1451" y="1073" textLength="103" lengthAdjust="spacingAndGlyphs">E-P profiles.</text>
</g>

<!-- IMPLICATIONS -->
<text class="sa b i" x="1034.5" y="1135" font-size="36" text-anchor="middle" textLength="209" lengthAdjust="spacingAndGlyphs">Implications</text>
<text class="sa b" x="741" y="1187" font-size="19" textLength="565" lengthAdjust="spacingAndGlyphs">Antarctic E-P is important for calculating the isotope signal.</text>
<text class="sa b" x="741" y="1292" font-size="19" textLength="551" lengthAdjust="spacingAndGlyphs">Changes in E-P are spatially complex, and not captured by</text>
<text class="sa b" x="741" y="1319" font-size="19" textLength="136" lengthAdjust="spacingAndGlyphs">MEBM_hydro.</text>
<text class="sa b" x="1039" y="1413" font-size="25" text-anchor="middle" textLength="162" lengthAdjust="spacingAndGlyphs">Future Paths</text>
<g class="se" font-size="19">
<text x="743" y="1213">•</text><text x="743" y="1238">•</text><text x="743" y="1346">•</text><text x="743" y="1442">•</text><text x="743" y="1467">•</text>
<text x="772" y="1213" textLength="539" lengthAdjust="spacingAndGlyphs">Using the Isotope Model: E-P primary control of change in δ<tspan dy="-7" font-size="12">18</tspan><tspan dy="7">O.</tspan></text>
<text x="772" y="1238" textLength="448" lengthAdjust="spacingAndGlyphs">Issues when deriving E-P from T alone with accuracy.</text>
<text x="767" y="1346" textLength="492" lengthAdjust="spacingAndGlyphs">Advection, model resolution, and topography likely matter.</text>
<text x="772" y="1442" textLength="519" lengthAdjust="spacingAndGlyphs">Different models – more water isotopes, more complexity, etc.</text>
<text x="772" y="1467" textLength="532" lengthAdjust="spacingAndGlyphs">More robust statistics – time varying info in MEBM_hydro, etc.</text>
</g>

<!-- MISC -->
<text class="sa b i" x="1689.5" y="1135" font-size="36" text-anchor="middle" textLength="243" lengthAdjust="spacingAndGlyphs">Miscellaneous</text>
<text class="sa b" x="1679.5" y="1190" font-size="24" text-anchor="middle" textLength="141" lengthAdjust="spacingAndGlyphs">References</text>
<g class="se" font-size="14">
<text x="1405" y="1213" textLength="552" lengthAdjust="spacingAndGlyphs">Riebeek, Holli. “Paleoclimatology: the Oxygen Balance.” <tspan font-style="italic">NASA Earth Observatory</tspan>, NASA, 6 May</text>
<text x="1446" y="1230" textLength="427" lengthAdjust="spacingAndGlyphs">2005, earthobservatory.nasa.gov/features/Paleoclimatology_OxygenBalance.</text>
<text x="1405" y="1253" textLength="570" lengthAdjust="spacingAndGlyphs">Roe, Gerard H. et al. "The Remote Impacts of Climate Feedbacks on Regional Climate Predictability."</text>
<text x="1446" y="1270" textLength="417" lengthAdjust="spacingAndGlyphs"><tspan font-style="italic">Nature Geoscience</tspan>, vol. 8, no. 2, 2015, pp. 135-39, doi:10.1038/ngeo2346.</text>
<text x="1405" y="1288" textLength="555" lengthAdjust="spacingAndGlyphs">Siler, Nicholas et al. "The Large-Scale, Long-Term Coupling of Temperature, Hydrology, and Water</text>
<text x="1446" y="1306" textLength="436" lengthAdjust="spacingAndGlyphs">Isotopes." <tspan font-style="italic">Journal of Climate</tspan>, 2021, pp. 1-51, doi:10.1175/JCLI-D-20-0563.1.</text>
</g>
<text class="sa b" x="1679.5" y="1373" font-size="26" text-anchor="middle" textLength="253" lengthAdjust="spacingAndGlyphs">Acknowledgements</text>
<g class="se" font-size="15.5">
<text x="1405" y="1397" textLength="248" lengthAdjust="spacingAndGlyphs">Mentors: Lindsey Davidge, T.J. Fudge</text>
<text x="1405" y="1416" textLength="492" lengthAdjust="spacingAndGlyphs">CCSM4, CAM, WRF Runs: Andrew Pauling, Marina Dütsch, Peter Blossey</text>
<text x="1405" y="1435" textLength="315" lengthAdjust="spacingAndGlyphs">Isotope modeling and further support: Nick Siler</text>
<text x="1405" y="1474" textLength="169" lengthAdjust="spacingAndGlyphs">Contact: <tspan class="u" style="fill:#1a55c8">ghosh.s@ufl.edu</tspan></text>
</g>
</svg>
</body></html>
